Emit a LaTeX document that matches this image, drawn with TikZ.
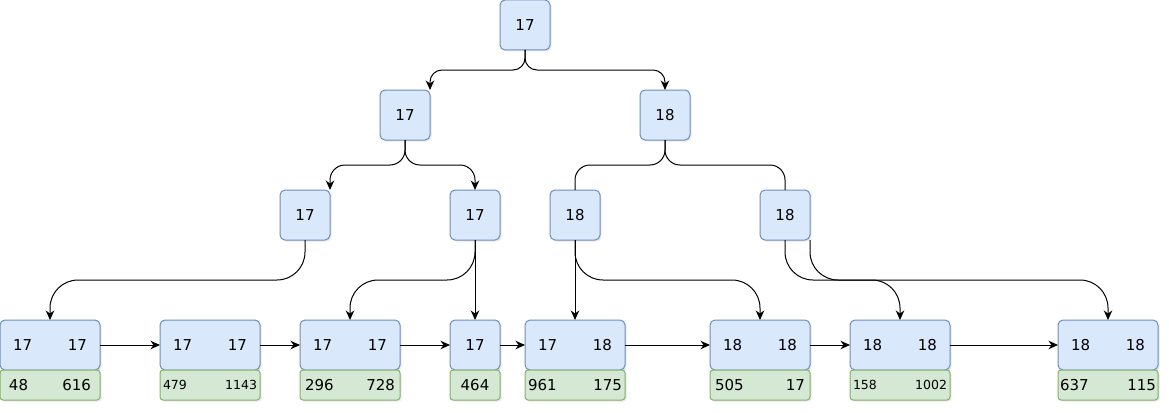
\documentclass[tikz,border=0pt]{standalone}
\usepackage{fontspec}
\setmainfont{DejaVu Sans}
\usepackage{xcolor}
\usepackage{tikz}
\usetikzlibrary{arrows.meta,positioning,calc,shadows}
\definecolor{keyfill}{HTML}{DAE8FC}
\definecolor{keyline}{HTML}{6C8EBF}
\definecolor{datafill}{HTML}{D5E8D4}
\definecolor{dataline}{HTML}{82B366}

\begin{document}
\begin{tikzpicture}[
  x=1pt,y=1pt,
  font=\fontsize{15}{17}\selectfont,
  keybox/.style={draw=keyline,fill=keyfill,line width=1pt,rounded corners=5pt,minimum size=50pt,inner sep=0pt,outer sep=0pt,
    drop shadow={shadow xshift=1.5pt,shadow yshift=-1.5pt,opacity=.18}},
  leafbox/.style={keybox,minimum width=100pt,text width=74pt},
  databox/.style={draw=dataline,fill=datafill,line width=1pt,rounded corners=3pt,minimum width=50pt,minimum height=30pt,inner sep=0pt,outer sep=0pt,
    drop shadow={shadow xshift=1.5pt,shadow yshift=-1.5pt,opacity=.18}},
  datapair/.style={databox,minimum width=100pt,text width=90pt},
  arr/.style={-{Stealth[length=9.5pt,width=8.5pt,inset=3pt]},line width=1pt},
  link/.style={line width=1pt}
]
\useasboundingbox (0,0) rectangle (1169,-412);
% inner levels
\node[keybox] (root) at (525,-25) {17};
\node[keybox,below left=40pt and 70pt of root] (l1a) {17};
\node[keybox,below right=40pt and 90pt of root] (l1b) {18};
\node[keybox,below left=50pt and 50pt of l1a] (l2a) {17};
\node[keybox,below right=50pt and 20pt of l1a] (l2b) {17};
\node[keybox,below left=50pt and 40pt of l1b] (l2c) {18};
\node[keybox,below right=50pt and 70pt of l1b] (l2d) {18};
% leaves
\node[leafbox,below left=80pt and 180pt of l2a] (lf1) {17\hfill17};
\node[leafbox,right=60pt of lf1] (lf2) {17\hfill17};
\node[leafbox,right=40pt of lf2] (lf3) {17\hfill17};
\node[keybox,right=50pt of lf3] (lf4) {17};
\node[leafbox,right=25pt of lf4] (lf5) {17\hfill18};
\node[leafbox,right=85pt of lf5] (lf6) {18\hfill18};
\node[leafbox,right=40pt of lf6] (lf7) {18\hfill18};
\node[leafbox,right=108pt of lf7] (lf8) {18\hfill18};
% records
\node[datapair,text width=82pt,below=0pt of lf1] (rc1) {48\hfill616};
\node[datapair,text width=94pt,font=\fontsize{12.5}{14}\selectfont,below=0pt of lf2] (rc2) {479\hfill1143};
\node[datapair,below=0pt of lf3] (rc3) {296\hfill728};
\node[databox,below=0pt of lf4] (rc4) {464};
\node[datapair,text width=94pt,below=0pt of lf5] (rc5) {961\hfill175};
\node[datapair,below=0pt of lf6] (rc6) {505\hfill17};
\node[datapair,text width=94pt,font=\fontsize{12.5}{14}\selectfont,below=0pt of lf7] (rc7) {158\hfill1002};
\node[datapair,text width=96pt,below=0pt of lf8] (rc8) {637\hfill115};
% tree edges
\draw[arr,rounded corners=12pt] (root.south) |- ($(root.south)!.5!(l1a.north east)$) -| (l1a.north east);
\draw[arr,rounded corners=12pt] (root.south) |- ($(root.south)!.5!(l1b.north)$) -| (l1b.north);
\draw[arr,rounded corners=15pt] (l1a.south) |- ($(l1a.south)!.5!(l2a.north east)$) -| (l2a.north east);
\draw[arr,rounded corners=15pt] (l1a.south) |- ($(l1a.south)!.5!(l2b.north)$) -| (l2b.north);
\draw[link,rounded corners=15pt] (l1b.south) |- ($(l1b.south)!.5!(l2c.north)$) -| (l2c.north);
\draw[link,rounded corners=15pt] (l1b.south) |- ($(l1b.south)!.5!(l2d.north)$) -| (l2d.north);
\draw[arr,rounded corners=28pt] (l2a.south) |- ($(l2a.south)!.5!(lf1.north)$) -| (lf1.north);
\draw[arr,rounded corners=28pt] (l2b.south) |- ($(l2b.south)!.5!(lf3.north)$) -| (lf3.north);
\draw[arr] (l2b) -- (lf4);
\draw[arr] (l2c) -- (lf5);
\draw[arr,rounded corners=28pt] (l2c.south) |- ($(l2c.south)!.5!(lf6.north)$) -| (lf6.north);
\draw[arr,rounded corners=28pt] (l2d.south) |- ($(l2d.south)!.5!(lf7.north)$) -| (lf7.north);
\draw[arr,rounded corners=28pt] (l2d.south east) |- ($(l2d.south east)!.5!(lf8.north)$) -| (lf8.north);
% leaf chain
\draw[arr] (lf1) -- (lf2);
\draw[arr] (lf2) -- (lf3);
\draw[arr] (lf3) -- (lf4);
\draw[arr] (lf4) -- (lf5);
\draw[arr] (lf5) -- (lf6);
\draw[arr] (lf6) -- (lf7);
\draw[arr] (lf7) -- (lf8);
\end{tikzpicture}
\end{document}
